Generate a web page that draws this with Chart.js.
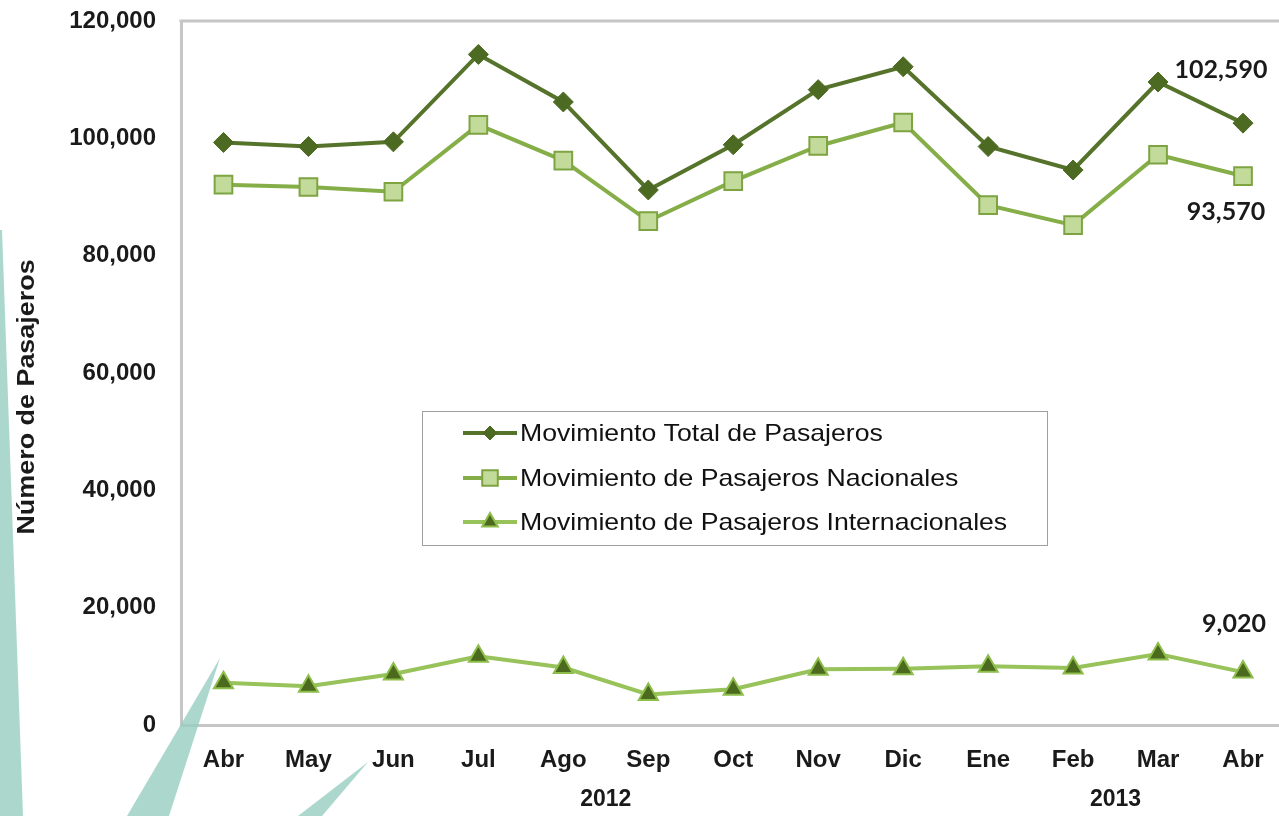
<!DOCTYPE html>
<html>
<head>
<meta charset="utf-8">
<script src="https://cdn.jsdelivr.net/npm/chart.js@4/dist/chart.umd.min.js"></script>
<style>
  html, body { margin: 0; padding: 0; background: #fff; overflow: hidden; }
  #wrap { width: 1300px; height: 816px; }
</style>
</head>
<body>
<div id="wrap"><canvas id="paxChart" width="1300" height="816"></canvas></div>
<script>
const months = ['Abr', 'May', 'Jun', 'Jul', 'Ago', 'Sep', 'Oct', 'Nov', 'Dic', 'Ene', 'Feb', 'Mar', 'Abr'];
const years = [{ label: '2012', at: 4.5 }, { label: '2013', at: 10.5 }];
const totalPax = [99300, 98600, 99400, 114300, 106200, 91200, 98900, 108300, 112200, 98600, 94600, 109600, 102590];
const nationalPax = [92100, 91700, 90900, 102300, 96200, 85900, 92700, 98700, 102700, 88600, 85200, 97200, 93570];
const intlPax = [7200, 6600, 8700, 11700, 9800, 5200, 6100, 9500, 9600, 10000, 9700, 12100, 9020];
const yTicks = [0, 20000, 40000, 60000, 80000, 100000, 120000];

const boldFont = '"Liberation Sans", Arial, sans-serif';

// decorative teal wedges behind the chart
const decoPlugin = {
  id: 'deco',
  beforeDatasetsDraw(chart) {
    const ctx = chart.ctx;
    ctx.save();
    ctx.fillStyle = 'rgba(150, 205, 192, 0.8)';
    const shapes = [
      [[0, 230], [2, 230], [23, 816], [0, 816]],
      [[220, 658], [169, 816], [127, 816]],
      [[368, 762], [322, 816], [298, 816]]
    ];
    shapes.forEach(pts => {
      ctx.beginPath();
      pts.forEach((p, i) => i ? ctx.lineTo(p[0], p[1]) : ctx.moveTo(p[0], p[1]));
      ctx.closePath();
      ctx.fill();
    });
    ctx.restore();
  }
};

const extrasPlugin = {
  id: 'extras',
  afterDraw(chart) {
    const ctx = chart.ctx;
    const area = chart.chartArea;
    const xs = chart.scales.x;
    ctx.save();

    // top frame line
    ctx.strokeStyle = '#c6c6c6';
    ctx.lineWidth = 3;
    ctx.beginPath();
    ctx.moveTo(area.left - 1.5, area.top);
    ctx.lineTo(area.right, area.top);
    ctx.stroke();

    // y axis title
    ctx.fillStyle = '#1a1a1a';
    ctx.font = 'bold 23px ' + boldFont;
    ctx.textAlign = 'center';
    ctx.textBaseline = 'middle';
    ctx.save();
    ctx.translate(28, 397);
    ctx.rotate(-Math.PI / 2);
    ctx.scale(1.17, 1);
    ctx.fillText('Número de Pasajeros', 0, 0);
    ctx.restore();

    // year labels
    years.forEach(y => {
      const px = xs.getPixelForValue(Math.floor(y.at)) + xs.width / months.length / 2;
      ctx.fillText(y.label, px, 800);
    });

    // end value labels
    ctx.font = 'bold 25px Lato, "Open Sans", sans-serif';
    const offsets = [[-22, -53], [-17, 36], [-9, -48]];
    chart.data.datasets.forEach((ds, i) => {
      const meta = chart.getDatasetMeta(i);
      const last = meta.data[meta.data.length - 1];
      const v = ds.data[ds.data.length - 1];
      ctx.fillText(v.toLocaleString('en-US'), last.x + offsets[i][0], last.y + offsets[i][1]);
    });

    // legend box
    const lx = 422, ly = 411, lw = 625, lh = 134;
    ctx.fillStyle = '#fff';
    ctx.fillRect(lx, ly, lw, lh);
    ctx.strokeStyle = '#a0a0a0';
    ctx.lineWidth = 1;
    ctx.strokeRect(lx + 0.5, ly + 0.5, lw, lh);
    const rows = [433, 478, 522];
    chart.data.datasets.forEach((ds, i) => {
      const ry = rows[i];
      ctx.strokeStyle = ds.borderColor;
      ctx.lineWidth = 4;
      ctx.beginPath();
      ctx.moveTo(463, ry);
      ctx.lineTo(517, ry);
      ctx.stroke();
      const opts = {
        pointStyle: ds.pointStyle,
        radius: ds.legendRadius,
        borderWidth: ds.pointBorderWidth,
        rotation: 0
      };
      ctx.fillStyle = ds.pointBackgroundColor;
      ctx.strokeStyle = ds.pointBorderColor;
      ctx.lineWidth = ds.pointBorderWidth;
      Chart.helpers.drawPoint(ctx, opts, 490, ry);
      ctx.save();
      ctx.fillStyle = '#111';
      ctx.font = '24px ' + boldFont;
      ctx.textAlign = 'left';
      ctx.textBaseline = 'middle';
      ctx.translate(520, ry + 1);
      ctx.scale(1.11, 1);
      ctx.fillText(ds.label, 0, 0);
      ctx.restore();
    });

    ctx.restore();
  }
};

new Chart(document.getElementById('paxChart'), {
  type: 'line',
  data: {
    labels: months,
    datasets: [
      {
        label: 'Movimiento Total de Pasajeros',
        data: totalPax,
        borderColor: '#55732a',
        borderWidth: 4,
        pointStyle: 'rectRot',
        pointRadius: 10,
        legendRadius: 7,
        pointBackgroundColor: '#4d6a22',
        pointBorderColor: '#4d6a22',
        pointBorderWidth: 1
      },
      {
        label: 'Movimiento de Pasajeros Nacionales',
        data: nationalPax,
        borderColor: '#86ae48',
        borderWidth: 4,
        pointStyle: 'rect',
        pointRadius: 12.5,
        legendRadius: 11,
        pointBackgroundColor: '#c3db9a',
        pointBorderColor: '#7ea442',
        pointBorderWidth: 2
      },
      {
        label: 'Movimiento de Pasajeros Internacionales',
        data: intlPax,
        borderColor: '#98c25a',
        borderWidth: 4,
        pointStyle: 'triangle',
        pointRadius: 11,
        legendRadius: 9,
        pointBackgroundColor: '#4c6a1e',
        pointBorderColor: '#8dbd4a',
        pointBorderWidth: 2
      }
    ]
  },
  options: {
    responsive: false,
    animation: false,
    layout: { padding: { top: 21, right: 13, left: 0, bottom: 0 } },
    plugins: {
      legend: { display: false },
      tooltip: { enabled: false }
    },
    scales: {
      x: {
        offset: true,
        grid: { display: false },
        border: { display: true, color: '#c6c6c6', width: 3 },
        ticks: {
          color: '#1a1a1a',
          padding: 13,
          maxRotation: 0,
          font: { family: boldFont, size: 24, weight: 'bold' }
        },
        afterFit: s => { s.height = 91; s.paddingLeft = 0; s.paddingRight = 0; }
      },
      y: {
        min: 0,
        max: 120000,
        afterBuildTicks: s => { s.ticks = yTicks.map(v => ({ value: v })); },
        grid: { display: false },
        border: { display: true, color: '#c6c6c6', width: 3 },
        ticks: {
          color: '#1a1a1a',
          padding: 17,
          font: { family: boldFont, size: 24, weight: 'bold' },
          callback: v => v.toLocaleString('en-US')
        },
        afterFit: s => { s.width = 181; s.paddingTop = 0; s.paddingBottom = 0; }
      }
    }
  },
  plugins: [decoPlugin, extrasPlugin]
});
</script>
</body>
</html>
